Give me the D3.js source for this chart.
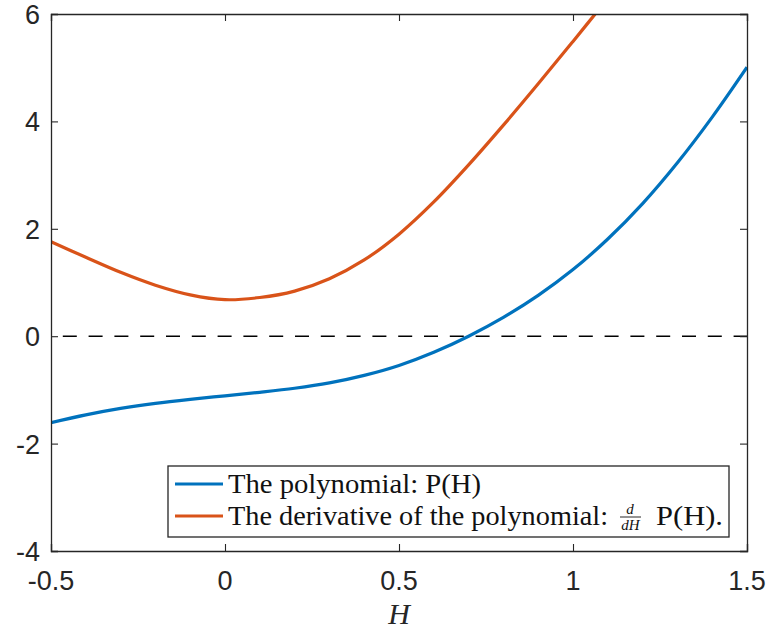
<!DOCTYPE html>
<html>
<head>
<meta charset="utf-8">
<script src="https://cdn.jsdelivr.net/npm/d3@7"></script>
<style>
  html, body { margin: 0; padding: 0; background: #fff; }
  svg { display: block; }
</style>
</head>
<body>
<svg id="chart" width="769" height="635"></svg>
<script>
// ---- data ----
const hValues      = [-0.5, -0.4, -0.3, -0.2, -0.1, 0.0, 0.1, 0.2, 0.3, 0.4, 0.5, 0.6, 0.7, 0.8, 0.9, 1.0, 1.1, 1.2, 1.3, 1.4, 1.5];
const polyValues   = [-1.61, -1.465, -1.345, -1.25, -1.175, -1.11, -1.045, -0.97, -0.87, -0.73, -0.545, -0.30, 0.00, 0.35, 0.76, 1.24, 1.81, 2.47, 3.23, 4.08, 5.01];
const derivH       = [-0.5, -0.4, -0.3, -0.2, -0.1, 0.0, 0.1, 0.2, 0.3, 0.4, 0.5, 0.6, 0.7, 0.8, 0.9, 1.0, 1.1];
const derivValues  = [1.76, 1.47, 1.19, 0.95, 0.77, 0.68, 0.72, 0.84, 1.07, 1.42, 1.90, 2.50, 3.19, 3.93, 4.70, 5.49, 6.29];
const refLineY     = [0, 0];
const refLineH     = [-0.5, 1.5];
const xTicks       = [-0.5, 0, 0.5, 1, 1.5];
const xTickLabels  = ["-0.5", "0", "0.5", "1", "1.5"];
const yTicks       = [-4, -2, 0, 2, 4, 6];
const yTickLabels  = ["-4", "-2", "0", "2", "4", "6"];
const seriesNames  = ["The polynomial: P(H)", "The derivative of the polynomial:"];
const xLabel       = "H";

// ---- layout ----
const svg = d3.select("#chart");
const L = 51, R = 747, T = 14, B = 551;
const x = d3.scaleLinear().domain([-0.5, 1.5]).range([L, R]);
const y = d3.scaleLinear().domain([-4, 6]).range([B, T]);
const axisColor = "#262626";
const blue = "#0072BD", orange = "#D95319";

svg.append("defs").append("clipPath").attr("id", "plotclip")
  .append("rect").attr("x", L).attr("y", T).attr("width", R - L).attr("height", B - T);

const plot = svg.append("g").attr("clip-path", "url(#plotclip)");

// dashed zero line
plot.append("path")
  .datum(refLineH.map((h, i) => [h, refLineY[i]]))
  .attr("d", d3.line().x(d => x(d[0])).y(d => y(d[1])))
  .attr("fill", "none").attr("stroke", "#000").attr("stroke-width", 1.6)
  .attr("stroke-dasharray", "14,11.8").attr("stroke-dashoffset", 14);

const line = d3.line().x(d => x(d[0])).y(d => y(d[1])).curve(d3.curveCatmullRom.alpha(0.5));

plot.append("path")
  .datum(derivH.map((h, i) => [h, derivValues[i]]))
  .attr("d", line).attr("fill", "none").attr("stroke", orange).attr("stroke-width", 3.2);

plot.append("path")
  .datum(hValues.map((h, i) => [h, polyValues[i]]))
  .attr("d", line).attr("fill", "none").attr("stroke", blue).attr("stroke-width", 3.2);

// ---- axes (box with inward ticks on all four sides) ----
const tickLen = 7;
const axes = svg.append("g");
const bottomAxis = d3.axisBottom(x).tickValues(xTicks).tickSize(-tickLen).tickFormat("");
const topAxis = d3.axisTop(x).tickValues(xTicks).tickSize(-tickLen).tickFormat("");
const leftAxis = d3.axisLeft(y).tickValues(yTicks).tickSize(-tickLen).tickFormat("");
const rightAxis = d3.axisRight(y).tickValues(yTicks).tickSize(-tickLen).tickFormat("");
[[bottomAxis, `translate(0,${B})`], [topAxis, `translate(0,${T})`],
 [leftAxis, `translate(${L},0)`], [rightAxis, `translate(${R},0)`]].forEach(([ax, tr]) => {
  const g = axes.append("g").attr("transform", tr).call(ax);
  g.select(".domain").attr("stroke", axisColor).attr("stroke-width", 1.3);
  g.selectAll(".tick line").attr("stroke", axisColor).attr("stroke-width", 1.1);
});

// tick labels
const tickFont = "'Liberation Sans', Arial, Helvetica, sans-serif";
svg.append("g").selectAll("text").data(xTicks).join("text")
  .attr("x", d => x(d)).attr("y", 590)
  .attr("text-anchor", "middle")
  .attr("font-family", tickFont).attr("font-size", 27).attr("fill", axisColor)
  .text((d, i) => xTickLabels[i]);

svg.append("g").selectAll("text").data(yTicks).join("text")
  .attr("x", 40).attr("y", d => y(d) + 10)
  .attr("text-anchor", "end")
  .attr("font-family", tickFont).attr("font-size", 27).attr("fill", axisColor)
  .text((d, i) => yTickLabels[i]);

// x label
svg.append("text")
  .attr("x", (L + R) / 2).attr("y", 624)
  .attr("text-anchor", "middle")
  .attr("font-family", "'Liberation Serif', 'Times New Roman', serif")
  .attr("font-style", "italic").attr("font-size", 30).attr("fill", axisColor)
  .text(xLabel);

// ---- legend ----
const serif = "'Liberation Serif', 'Times New Roman', serif";
const lg = svg.append("g");
lg.append("rect").attr("x", 168).attr("y", 466).attr("width", 561).attr("height", 71)
  .attr("fill", "#fff").attr("stroke", axisColor).attr("stroke-width", 1.3);

const rowsY = [484, 516];
const colors = [blue, orange];
rowsY.forEach((ry, i) => {
  lg.append("line").attr("x1", 175).attr("x2", 223).attr("y1", ry).attr("y2", ry)
    .attr("stroke", colors[i]).attr("stroke-width", 3.2);
});

lg.append("text").attr("x", 228).attr("y", 493)
  .attr("font-family", serif).attr("font-size", 28).attr("fill", "#111")
  .attr("textLength", 253).attr("lengthAdjust", "spacingAndGlyphs")
  .text(seriesNames[0]);

lg.append("text").attr("x", 228).attr("y", 525)
  .attr("font-family", serif).attr("font-size", 28).attr("fill", "#111")
  .attr("textLength", 380).attr("lengthAdjust", "spacingAndGlyphs")
  .text(seriesNames[1]);

// fraction d/dH
lg.append("text").attr("x", 630).attr("y", 514).attr("text-anchor", "middle")
  .attr("font-family", serif).attr("font-style", "italic").attr("font-size", 15).attr("fill", "#111")
  .text("d");
lg.append("line").attr("x1", 620).attr("x2", 641).attr("y1", 517).attr("y2", 517)
  .attr("stroke", "#111").attr("stroke-width", 0.9);
lg.append("text").attr("x", 630.5).attr("y", 530).attr("text-anchor", "middle")
  .attr("font-family", serif).attr("font-style", "italic").attr("font-size", 15).attr("fill", "#111")
  .text("dH");

lg.append("text").attr("x", 656).attr("y", 525)
  .attr("font-family", serif).attr("font-size", 28).attr("fill", "#111")
  .attr("textLength", 67).attr("lengthAdjust", "spacingAndGlyphs")
  .text("P(H).");
</script>
</body>
</html>
